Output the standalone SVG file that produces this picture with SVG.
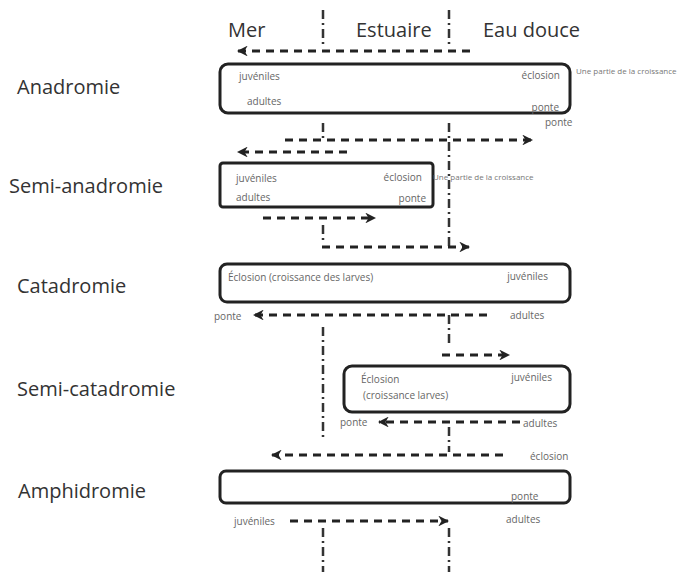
<svg xmlns="http://www.w3.org/2000/svg" width="683" height="574" viewBox="0 0 683 574">
<defs>
<marker id="ah" viewBox="0 0 10 10" refX="9" refY="5" markerWidth="3.6" markerHeight="3.6" orient="auto" markerUnits="strokeWidth">
<path d="M0,0 L10,5 L0,10 L3,5 z" fill="#222"/>
</marker>
<style>
.hdr{font-family:"Open Sans","Liberation Sans",sans-serif;font-size:20px;fill:#333}
.lbl{font-family:"Open Sans","Liberation Sans",sans-serif;font-size:20px;fill:#333}
.sm{font-family:"Open Sans","Liberation Sans",sans-serif;font-size:10px;fill:#666}
.xs{font-family:"Open Sans","Liberation Sans",sans-serif;font-size:8px;fill:#777}
.box{fill:none;stroke:#222;stroke-width:3}
.arr{fill:none;stroke:#222;stroke-width:3;stroke-dasharray:8 6;marker-end:url(#ah)}
.dd{fill:none;stroke:#333;stroke-width:2.5;stroke-dasharray:9 4 2 4}
</style>
</defs>
<rect width="683" height="574" fill="#fff"/>

<g id="headers">
<text class="hdr" x="228" y="37">Mer</text>
<text class="hdr" x="356" y="37">Estuaire</text>
<text class="hdr" x="483" y="37">Eau douce</text>
</g>

<g id="boundaries">
<path class="dd" d="M323,10 V44 M449,10 V44"/>
<path class="dd" d="M323,123 V142 M323,225 V240"/>
<path class="dd" d="M449,123 V250"/>
<path class="dd" d="M449,315 V345"/>
<path class="dd" d="M323,327 V438 M449,427 V452"/>
<path class="dd" d="M323,528 V572 M449,528 V572"/>
</g>

<g id="anadromie">
<text class="lbl" x="17" y="94">Anadromie</text>
<rect class="box" x="220" y="64" width="350" height="49" rx="8"/>
<text class="sm" x="239" y="80">juvéniles</text>
<text class="sm" x="247" y="105">adultes</text>
<text class="sm" x="560" y="79" text-anchor="end">éclosion</text>
<text class="sm" x="559" y="111" text-anchor="end">ponte</text>
<text class="xs" x="576" y="74">Une partie de la croissance</text>
<text class="sm" x="545" y="126">ponte</text>
</g>

<g id="semi-anadromie">
<text class="lbl" x="9" y="193">Semi-anadromie</text>
<rect class="box" x="220" y="163" width="213" height="44" rx="3"/>
<text class="sm" x="236" y="182">juvéniles</text>
<text class="sm" x="236" y="201">adultes</text>
<text class="sm" x="422" y="181" text-anchor="end">éclosion</text>
<text class="sm" x="426" y="202" text-anchor="end">ponte</text>
<text class="xs" x="433" y="180">Une partie de la croissance</text>
</g>

<g id="catadromie">
<text class="lbl" x="17" y="293">Catadromie</text>
<rect class="box" x="220" y="264" width="350" height="38" rx="7"/>
<text class="sm" x="228" y="281">Éclosion (croissance des larves)</text>
<text class="sm" x="548" y="280" text-anchor="end">juvéniles</text>
<text class="sm" x="214" y="320">ponte</text>
<text class="sm" x="510" y="319">adultes</text>
</g>

<g id="semi-catadromie">
<text class="lbl" x="17" y="396">Semi-catadromie</text>
<rect class="box" x="344" y="366" width="226" height="46" rx="8"/>
<text class="sm" x="361" y="383">Éclosion</text>
<text class="sm" x="363" y="399">(croissance larves)</text>
<text class="sm" x="552" y="381" text-anchor="end">juvéniles</text>
<text class="sm" x="340" y="426">ponte</text>
<text class="sm" x="523" y="427">adultes</text>
</g>

<g id="amphidromie">
<text class="lbl" x="18" y="498">Amphidromie</text>
<rect class="box" x="220" y="471" width="350" height="32" rx="6"/>
<text class="sm" x="530" y="460">éclosion</text>
<text class="sm" x="511" y="500">ponte</text>
<text class="sm" x="506" y="523">adultes</text>
<text class="sm" x="234" y="525">juvéniles</text>
</g>

<g id="connectors">
<path class="arr" d="M470,51 H238"/>
<path class="arr" d="M285,140 H532"/>
<path class="arr" d="M347,152 H238"/>
<path class="arr" d="M263,218 H375"/>
<path class="arr" d="M322,247 H469"/>
<path class="arr" d="M487,315 H254"/>
<path class="arr" d="M442,355 H509"/>
<path class="arr" d="M520,422 H379"/>
<path class="arr" d="M503,455 H272"/>
<path class="arr" d="M290,521 H448"/>
</g>
</svg>
